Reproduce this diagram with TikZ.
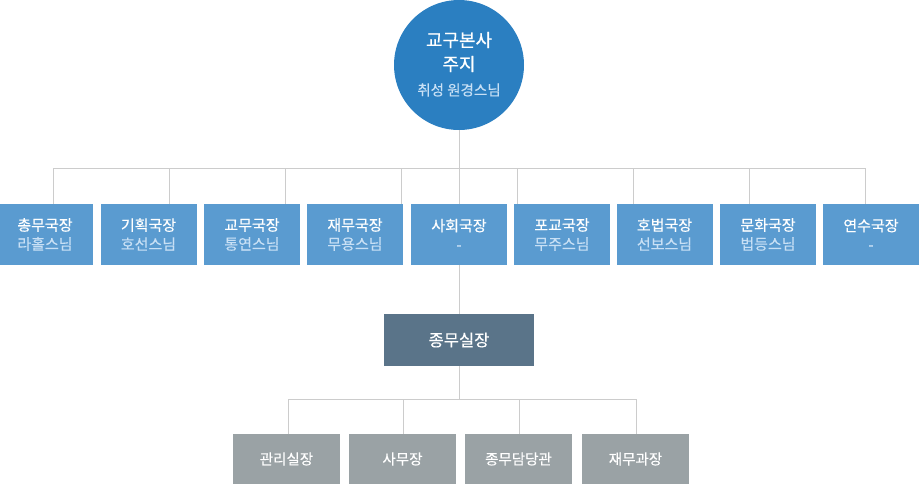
\documentclass[tikz,border=0pt]{standalone}
\usepackage{fontspec}
\newfontfamily\kr[FakeBold=0.35]{Noto Sans CJK KR}
\definecolor{circblue}{RGB}{43,127,193}
\definecolor{topblue}{RGB}{90,155,208}
\definecolor{subtxt}{RGB}{200,224,245}
\definecolor{slate}{RGB}{90,116,137}
\definecolor{greybox}{RGB}{154,162,165}
\definecolor{linegray}{RGB}{204,204,204}
\begin{document}
\begin{tikzpicture}[x=1pt,y=-1pt,
  conn/.style={draw=linegray,line width=1pt},
  headcirc/.style={circle,fill=circblue,minimum size=130pt,inner sep=0pt},
  topbox/.style={fill=topblue,minimum width=96pt,minimum height=61pt,inner sep=0pt,
     align=center,text=white,font=\kr\fontsize{15}{19}\selectfont},
  midbox/.style={fill=slate,minimum width=150pt,minimum height=52pt,inner sep=0pt,
     text=white,font=\kr\fontsize{16.5}{18}\selectfont},
  lowbox/.style={fill=greybox,minimum width=107pt,minimum height=50pt,inner sep=0pt,
     text=white,font=\kr\fontsize{14.5}{18}\selectfont}]
\useasboundingbox (0,0) rectangle (919,491);

% head
\node[headcirc] (head) at (459,65) {};
\node[text=white,font=\kr\fontsize{18}{24}\selectfont,align=center] (headt) at (459,52) {교구본사\\주지};
\node[text=subtxt,font=\kr\fontsize{14.5}{18}\selectfont] (heads) at (459,90) {취성 원경스님};

% top row
\node[topbox] (b1) at (45,234.5) {총무국장\\\textcolor{subtxt}{라홀스님}};
\node[topbox] (b2) at (148.5,234.5) {기획국장\\\textcolor{subtxt}{호선스님}};
\node[topbox] (b3) at (252,234.5) {교무국장\\\textcolor{subtxt}{통연스님}};
\node[topbox] (b4) at (355,234.5) {재무국장\\\textcolor{subtxt}{무용스님}};
\node[topbox] (b5) at (459,234.5) {사회국장\\\textcolor{subtxt}{-}};
\node[topbox] (b6) at (562,234.5) {포교국장\\\textcolor{subtxt}{무주스님}};
\node[topbox] (b7) at (664.5,234.5) {호법국장\\\textcolor{subtxt}{선보스님}};
\node[topbox] (b8) at (768,234.5) {문화국장\\\textcolor{subtxt}{법등스님}};
\node[topbox] (b9) at (871,234.5) {연수국장\\\textcolor{subtxt}{-}};

% middle
\node[midbox] (mid) at (459,340) {종무실장};

% bottom row
\node[lowbox] (c1) at (286.5,459) {관리실장};
\node[lowbox] (c2) at (402.5,459) {사무장};
\node[lowbox] (c3) at (518.5,459) {종무담당관};
\node[lowbox] (c4) at (635.5,459) {재무과장};

% top connectors
\coordinate (hl) at (53,168);
\coordinate (hr) at (865,168);
\coordinate (d1) at (53,168);
\coordinate (d2) at (169,168);
\coordinate (d3) at (285,168);
\coordinate (d4) at (401,168);
\coordinate (d6) at (517,168);
\coordinate (d7) at (633,168);
\coordinate (d8) at (749,168);
\coordinate (d9) at (865,168);
\draw[conn] (head.south) -- (b5.north);
\draw[conn] (hl) -- (hr);
\foreach \i in {1,2,3,4,6,7,8,9}{
  \draw[conn] (d\i) -- (d\i |- b\i.north);
}
\draw[conn] (b5.south) -- (mid.north);

% bottom connectors
\coordinate (gl) at (288,399);
\coordinate (gr) at (636,399);
\coordinate (e1) at (288,399);
\coordinate (e2) at (403,399);
\coordinate (e3) at (519,399);
\coordinate (e4) at (636,399);
\draw[conn] (mid.south) -- (mid.south |- gl);
\draw[conn] (gl) -- (gr);
\foreach \i in {1,2,3,4}{
  \draw[conn] (e\i) -- (e\i |- c\i.north);
}
\end{tikzpicture}
\end{document}
